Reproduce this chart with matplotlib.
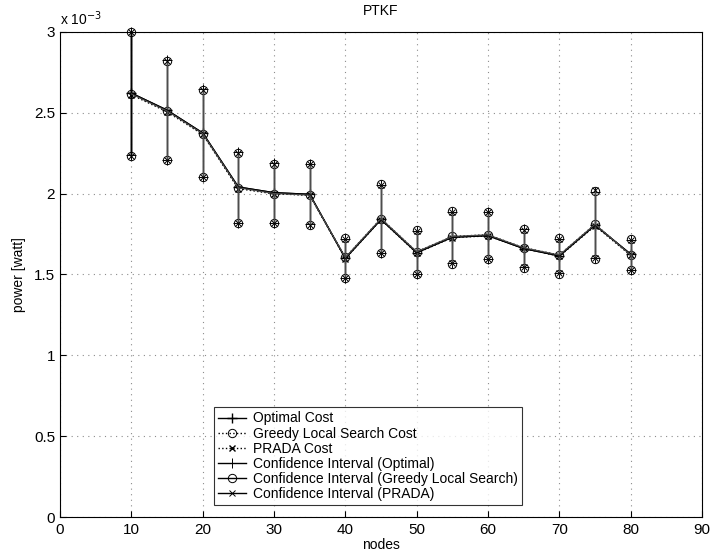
import numpy as np
import matplotlib
matplotlib.use("Agg")
import matplotlib.pyplot as plt

plt.rcParams['font.family'] = ['Liberation Sans', 'DejaVu Sans']

# data (power in units of 1e-3 watt)
nodes = [10, 15, 20, 25, 30, 35, 40, 45, 50, 55, 60, 65, 70, 75, 80]

opt_mean = [2.62, 2.515, 2.374, 2.04, 2.005, 1.995, 1.60, 1.84, 1.635, 1.73, 1.74, 1.66, 1.615, 1.805, 1.625]
opt_low = [2.235, 2.21, 2.105, 1.82, 1.82, 1.81, 1.477, 1.635, 1.50, 1.568, 1.595, 1.545, 1.508, 1.60, 1.525]
opt_up = [3.0, 2.823, 2.645, 2.255, 2.186, 2.184, 1.72, 2.055, 1.768, 1.887, 1.885, 1.778, 1.72, 2.012, 1.712]

gls_mean = [2.615, 2.51, 2.37, 2.035, 2.0, 1.99, 1.605, 1.845, 1.64, 1.735, 1.745, 1.665, 1.62, 1.81, 1.62]
gls_low = [2.23, 2.205, 2.10, 1.815, 1.815, 1.805, 1.48, 1.632, 1.502, 1.566, 1.597, 1.542, 1.505, 1.598, 1.527]
gls_up = [2.998, 2.82, 2.64, 2.25, 2.183, 2.18, 1.725, 2.058, 1.772, 1.89, 1.888, 1.78, 1.725, 2.016, 1.716]

prada_mean = [2.61, 2.505, 2.365, 2.03, 1.998, 1.99, 1.598, 1.838, 1.632, 1.728, 1.738, 1.662, 1.612, 1.80, 1.618]
prada_low = [2.232, 2.208, 2.102, 1.818, 1.818, 1.808, 1.476, 1.634, 1.50, 1.57, 1.596, 1.544, 1.507, 1.60, 1.526]
prada_up = [2.996, 2.818, 2.642, 2.252, 2.184, 2.182, 1.722, 2.052, 1.77, 1.886, 1.884, 1.776, 1.722, 2.02, 1.714]

fig = plt.figure(figsize=(7.11, 5.55), dpi=100)
ax = fig.add_axes([0.0844, 0.068, 0.903, 0.875])

x = np.array(nodes)

# mean cost curves
ax.plot(x, opt_mean, '-', marker='+', color='k', lw=1.0, ms=7, label='Optimal Cost')
ax.plot(x, gls_mean, ':', marker='o', color='k', lw=1.0, ms=6, mfc='none', mew=0.7, label='Greedy Local Search Cost')
ax.plot(x, prada_mean, ':', marker='x', color='k', lw=1.0, ms=5, label='PRADA Cost')

# confidence intervals
ci = [(opt_low, opt_up, '+', 7, '0.15', 'Confidence Interval (Optimal)'),
      (gls_low, gls_up, 'o', 6, '0.45', 'Confidence Interval (Greedy Local Search)'),
      (prada_low, prada_up, 'x', 5, '0.3', 'Confidence Interval (PRADA)')]
for lo, hi, m, ms, c, lab in ci:
    lines = ax.plot(np.vstack([x, x]), np.vstack([lo, hi]), '-', marker=m, color=c,
                    mec='k', mfc='none', ms=ms, mew=0.7, lw=1.0, clip_on=False)
    lines[0].set_label(lab)
    lines[0].set_color('k')
    lines[0].set_markeredgecolor('k')

# redraw connecting line on top
ax.plot(x, opt_mean, '-', color='k', lw=1.0)
ax.plot(x, gls_mean, '-', color='0.3', lw=0.8)

ax.set_xlim(0, 90)
ax.set_ylim(0, 3)
ax.set_xticks(np.arange(0, 91, 10))
ax.set_yticks(np.arange(0, 3.01, 0.5))
ax.set_yticklabels(['0', '0.5', '1', '1.5', '2', '2.5', '3'])
ax.grid(True, linestyle=(0, (1, 4)), color='0.55', lw=0.8)
ax.tick_params(direction='in', labelsize=11, length=4)
ax.tick_params(axis='x', pad=4)

ax.set_title('PTKF', fontsize=10, pad=12)
ax.set_xlabel('nodes', fontsize=10, labelpad=1)
ax.set_ylabel('power [watt]', fontsize=10, labelpad=6)
ax.text(0.0, 1.008, 'x 10$^{-3}$', transform=ax.transAxes, fontsize=10, ha='left', va='bottom')

leg = ax.legend(loc='lower left', bbox_to_anchor=(0.24, 0.025), fontsize=10, frameon=True,
                fancybox=False, edgecolor='k', borderaxespad=0.0, handlelength=2.0,
                labelspacing=0.08, borderpad=0.3, handletextpad=0.5, numpoints=1)
leg.get_frame().set_linewidth(0.8)

plt.savefig('out.png', dpi=100)
